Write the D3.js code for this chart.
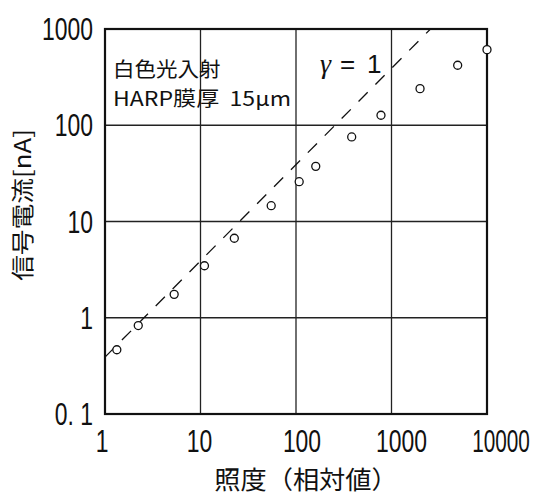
<!DOCTYPE html>
<html>
<head>
<meta charset="utf-8">
<script src="https://cdn.jsdelivr.net/npm/d3@7"></script>
<style>
  body { margin: 0; background: #fff; }
  svg text { fill: #111; }
  .num { font-family: "Liberation Sans", Arial, sans-serif; }
  .jp { font-family: "Noto Sans CJK JP", sans-serif; }
</style>
</head>
<body>
<svg id="chart" width="542" height="496"></svg>
<script>
// measured points: illuminance (relative) vs signal current [nA]
const illum = [1.33, 2.23, 5.3, 11, 22.6, 55, 108, 161, 383, 776, 1990, 4930, 10000];
const current = [0.465, 0.83, 1.75, 3.47, 6.7, 14.6, 25.9, 37.4, 75.6, 127, 240, 420, 610];
// gamma = 1 reference line
const gammaX = [1, 2560];
const gammaY = [0.39, 1000];
const xTicks = [1, 10, 100, 1000, 10000];
const yTicks = [0.1, 1, 10, 100, 1000];
const yTickLabels = ["0. 1", "1", "10", "100", "1000"];

const svg = d3.select("#chart");
const pLeft = 105, pRight = 487, pTop = 29, pBottom = 414;

const x = d3.scaleLog().domain([1, 10000]).range([pLeft, pRight]);
const y = d3.scaleLog().domain([0.1, 1000]).range([pBottom, pTop]);

// grid
svg.append("g").selectAll("line")
  .data(xTicks.slice(1, -1)).join("line")
  .attr("x1", d => x(d)).attr("x2", d => x(d))
  .attr("y1", pTop).attr("y2", pBottom)
  .attr("stroke", "#222").attr("stroke-width", 1.3);
svg.append("g").selectAll("line")
  .data(yTicks.slice(1, -1)).join("line")
  .attr("x1", pLeft).attr("x2", pRight)
  .attr("y1", d => y(d)).attr("y2", d => y(d))
  .attr("stroke", "#222").attr("stroke-width", 1.3);

// frame
svg.append("rect")
  .attr("x", pLeft).attr("y", pTop)
  .attr("width", pRight - pLeft).attr("height", pBottom - pTop)
  .attr("fill", "none").attr("stroke", "#111").attr("stroke-width", 2.2);

// gamma line
svg.append("clipPath").attr("id", "plotclip")
  .append("rect").attr("x", pLeft).attr("y", pTop)
  .attr("width", pRight - pLeft).attr("height", pBottom - pTop);
svg.append("path")
  .datum(gammaX.map((d, i) => [d, gammaY[i]]))
  .attr("clip-path", "url(#plotclip)")
  .attr("d", d3.line().x(d => x(d[0])).y(d => y(d[1])))
  .attr("fill", "none").attr("stroke", "#111").attr("stroke-width", 1.3)
  .attr("stroke-dasharray", "13,11");

// points
svg.append("g").selectAll("circle")
  .data(illum.map((d, i) => [d, current[i]])).join("circle")
  .attr("cx", d => x(d[0])).attr("cy", d => y(d[1]))
  .attr("r", 4).attr("fill", "#fff")
  .attr("stroke", "#111").attr("stroke-width", 1.3);

// tick labels (narrow digits, nudged like the original)
const xNudge = [-3, -1, 6, 10, 14];
svg.append("g").selectAll("text")
  .data(xTicks).join("text")
  .attr("class", "num")
  .attr("transform", (d, i) => `translate(${x(d) + xNudge[i]},452) scale(${i === 4 ? 0.67 : 0.74},1)`)
  .attr("text-anchor", "middle")
  .attr("font-size", 31)
  .text(d => d);
svg.append("g").selectAll("text")
  .data(yTicks).join("text")
  .attr("class", "num")
  .attr("transform", d => `translate(93,${y(d) + 11}) scale(0.74,1)`)
  .attr("text-anchor", "end")
  .attr("font-size", 31)
  .style("white-space", "pre")
  .text((d, i) => yTickLabels[i]);

// axis titles
svg.append("text").attr("class", "jp")
  .attr("transform", "translate(306,489) scale(1.05,1)")
  .attr("text-anchor", "middle").attr("font-size", 25)
  .text("照度（相対値）");
svg.append("text").attr("class", "jp")
  .attr("transform", "translate(31,205) rotate(-90) scale(1.12,1)")
  .attr("text-anchor", "middle").attr("font-size", 23)
  .text("信号電流[nA]");

// annotations
svg.append("text").attr("class", "jp")
  .attr("transform", "translate(113,77) scale(1.05,1)")
  .attr("font-size", 20.5)
  .text("白色光入射");
svg.append("text").attr("class", "jp")
  .attr("x", 113).attr("y", 106).attr("font-size", 20.5)
  .attr("textLength", 178).attr("lengthAdjust", "spacingAndGlyphs")
  .style("white-space", "pre")
  .text("HARP膜厚  15μm");
svg.append("text").attr("x", 320).attr("y", 73).attr("font-size", 28)
  .attr("font-family", "Liberation Serif, serif").attr("font-style", "italic").text("γ");
svg.append("text").attr("class", "num").attr("x", 340).attr("y", 73).attr("font-size", 26).text("=");
svg.append("text").attr("class", "num").attr("x", 367).attr("y", 73).attr("font-size", 26).text("1");
</script>
</body>
</html>
